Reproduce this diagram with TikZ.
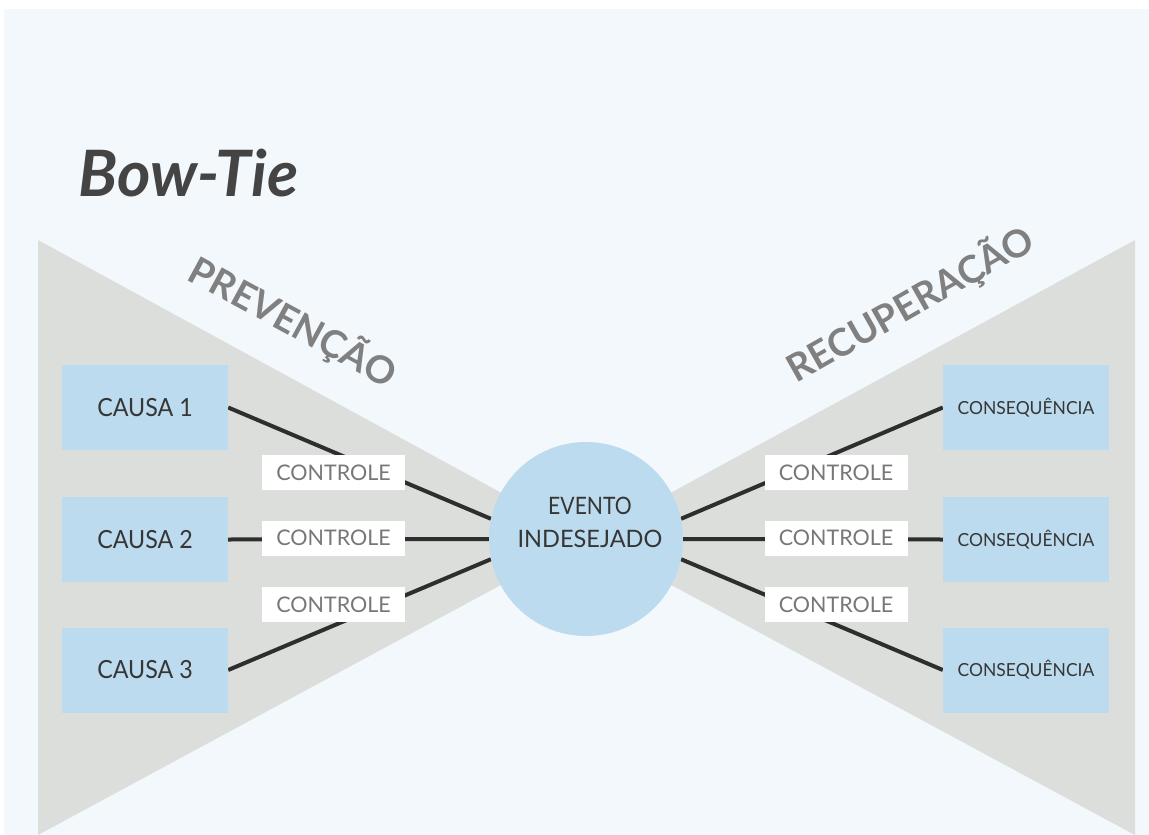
\documentclass[tikz,border=0pt]{standalone}
\usepackage{fontspec}
\setmainfont{Lato}
\definecolor{bgblue}{HTML}{F3F8FC}
\definecolor{bowgray}{HTML}{DCDEDB}
\definecolor{boxblue}{HTML}{BCDBEE}
\definecolor{linedark}{HTML}{2E2E2E}
\definecolor{txtdark}{HTML}{363636}
\definecolor{txtgray}{HTML}{777777}
\definecolor{headgray}{HTML}{808080}
\definecolor{titlegray}{HTML}{444444}
\pgfdeclarelayer{back}
\pgfsetlayers{back,main}
\tikzset{
  causebox/.style={fill=boxblue, minimum width=166pt, minimum height=85pt, inner sep=0pt, text=txtdark, font=\fontsize{25}{28}\selectfont},
  conbox/.style={fill=boxblue, minimum width=166pt, minimum height=85pt, inner sep=0pt, text=txtdark, font=\fontsize{18}{22}\selectfont},
  ctrlbox/.style={fill=white, minimum width=143pt, minimum height=35pt, inner sep=0pt, text=txtgray, font=\fontsize{21.5}{24}\selectfont},
  eventnode/.style={circle, fill=boxblue, minimum size=194pt, inner sep=0pt},
  eventtext/.style={inner sep=0pt, text=txtdark, align=center, font=\fontsize{24}{33}\selectfont},
  link/.style={draw=linedark, line width=4pt},
  headtext/.style={text=headgray, font=\fontsize{38}{40}\selectfont\bfseries, inner sep=0pt}
}
\begin{document}
\begin{tikzpicture}[x=1pt,y=-1pt]
\useasboundingbox (0,0) rectangle (1149,835);
% nodes
\node[causebox] (c1) at (145,407.5) {\scalebox{0.93}[1]{CAUSA 1}};
\node[causebox] (c2) at (145,539.5) {\scalebox{0.93}[1]{CAUSA 2}};
\node[causebox] (c3) at (145,670) {\scalebox{0.93}[1]{CAUSA 3}};
\node[conbox] (q1) at (1026,407.5) {\scalebox{0.97}[1]{CONSEQUÊNCIA}};
\node[conbox] (q2) at (1026,539.5) {\scalebox{0.97}[1]{CONSEQUÊNCIA}};
\node[conbox] (q3) at (1026,670) {\scalebox{0.97}[1]{CONSEQUÊNCIA}};
\node[eventnode] (ev) at (586,539) {};
\node[eventtext] (evt) at (590,522) {\scalebox{0.88}[1]{EVENTO}\\\scalebox{0.98}[1]{INDESEJADO}};
\node[ctrlbox] (k1) at (333.5,472.5) {CONTROLE};
\node[ctrlbox] (k2) at (333.5,538) {CONTROLE};
\node[ctrlbox] (k3) at (333.5,604.5) {CONTROLE};
\node[ctrlbox] (k4) at (836,472.5) {CONTROLE};
\node[ctrlbox] (k5) at (836,538) {CONTROLE};
\node[ctrlbox] (k6) at (836,604.5) {CONTROLE};
% texts
\node[anchor=base west, inner sep=0pt, text=titlegray, font=\fontsize{64}{70}\selectfont\bfseries\itshape] (title) at (78,196) {Bow-Tie};
\node[headtext, rotate=-28.5] (prev) at (293,322) {PREVENÇÃO};
\node[headtext, rotate=29.5] (recu) at (910,304) {RECUPERAÇÃO};
% background layer
\begin{pgfonlayer}{back}
\fill[white] (0,0) rectangle (1149,835);
\fill[bgblue] (4,9) rectangle (1149,835);
\fill[bowgray] (38,240) -- (586,539) -- (38,835) -- cycle;
\fill[bowgray] (1135,240) -- (586,539) -- (1135,835) -- cycle;
\draw[link] (c1.east) -- (ev.168);
\draw[link] (c2.east) -- (ev.west);
\draw[link] (c3.east) -- (ev.192);
\draw[link] (ev.12) -- (q1.west);
\draw[link] (ev.east) -- (q2.west);
\draw[link] (ev.348) -- (q3.west);
\end{pgfonlayer}
\end{tikzpicture}
\end{document}
